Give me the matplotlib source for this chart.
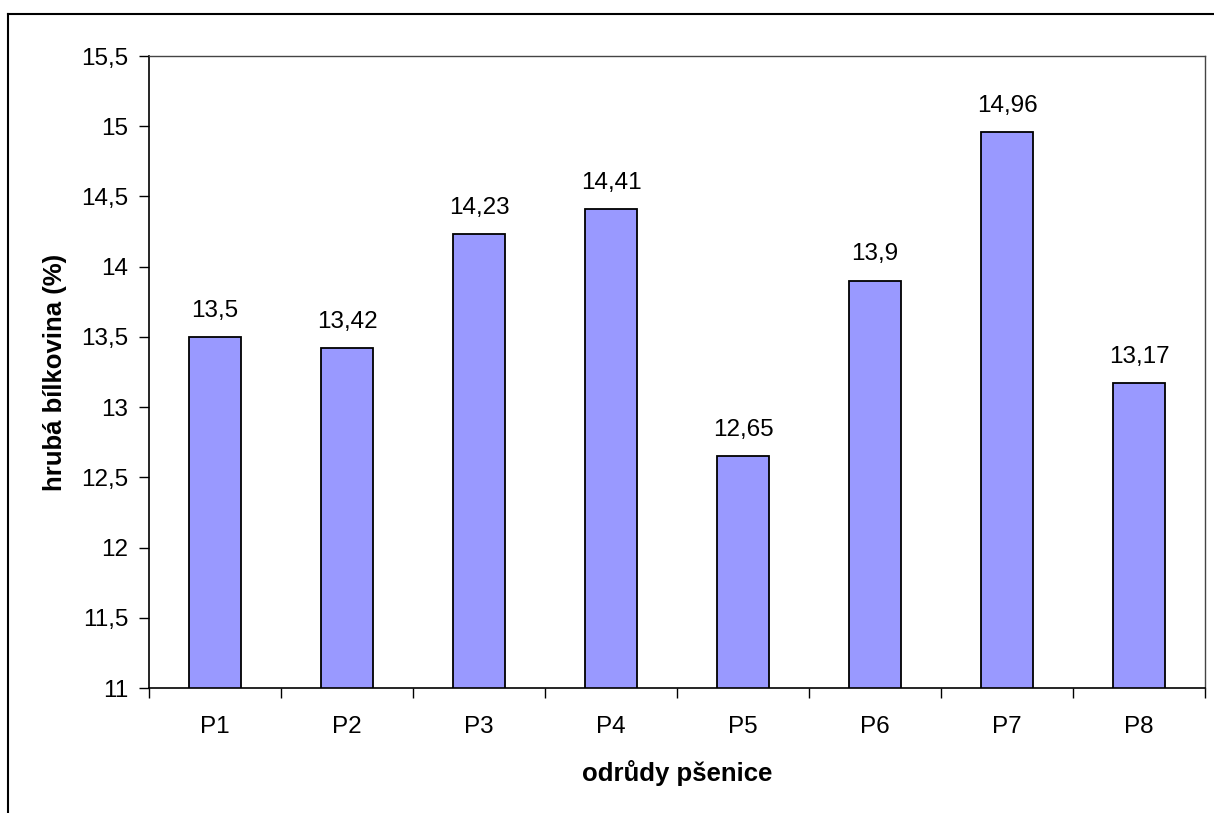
import numpy as np
import matplotlib.pyplot as plt
from matplotlib.lines import Line2D

# wheat varieties and crude protein content
odrudy = ['P1', 'P2', 'P3', 'P4', 'P5', 'P6', 'P7', 'P8']
bilkovina = [13.5, 13.42, 14.23, 14.41, 12.65, 13.9, 14.96, 13.17]
y_ticks = [11, 11.5, 12, 12.5, 13, 13.5, 14, 14.5, 15, 15.5]

plt.rcParams['font.family'] = ['Liberation Sans', 'DejaVu Sans']

def cz(v):
    s = ('%.2f' % v).rstrip('0').rstrip('.')
    return s.replace('.', ',')

fig = plt.figure(figsize=(12.14, 8.13), dpi=100)
ax = fig.add_axes([0.1227, 0.1537, 0.8699, 0.7774])

x = np.arange(len(odrudy))
bars = ax.bar(x, bilkovina, width=0.4, color='#9999FF', edgecolor='black',
              linewidth=1.3)
ax.set_ylim(11, 15.5)
ax.set_xlim(-0.5, len(odrudy) - 0.5)

for xi, v in zip(x, bilkovina):
    ax.annotate(cz(v), (xi, v), xytext=(0, 11), textcoords='offset points',
                ha='center', va='bottom', fontsize=17.5)

ax.set_yticks(y_ticks)
ax.set_yticklabels([cz(t) for t in y_ticks], fontsize=17.5)
ax.set_xticks(x)
ax.set_xticklabels(odrudy, fontsize=17.5)
ax.tick_params(axis='x', length=0, pad=20)
ax.tick_params(axis='y', length=7, width=1, pad=8)
# category separators below the x axis
ax.set_xticks(np.arange(-0.5, len(odrudy)), minor=True)
ax.tick_params(axis='x', which='minor', length=7, width=1, direction='out')

for side in ['top', 'right']:
    ax.spines[side].set_color('#444444')
    ax.spines[side].set_linewidth(1)
for side in ['left', 'bottom']:
    ax.spines[side].set_linewidth(1.2)

ax.set_xlabel('odrůdy pšenice', fontsize=18.5, fontweight='bold', labelpad=16)
ax.set_ylabel('hrubá bílkovina (%)', fontsize=18.5, fontweight='bold', labelpad=10)

# chart area border
fig.add_artist(Line2D([0.0066, 1.0], [0.9828, 0.9828], color='black', lw=1.5,
                      transform=fig.transFigure))
fig.add_artist(Line2D([0.0066, 0.0066], [0.0, 0.9828], color='black', lw=1.5,
                      transform=fig.transFigure))

plt.savefig('out.png', dpi=100)
